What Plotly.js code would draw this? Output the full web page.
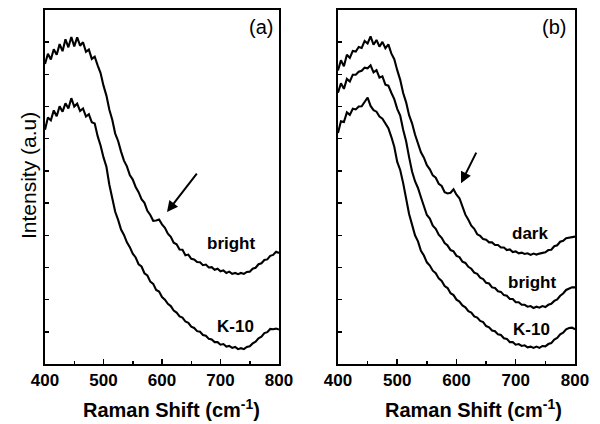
<!DOCTYPE html>
<html>
<head>
<meta charset="utf-8">
<script src="https://cdn.plot.ly/plotly-3.0.1.min.js"></script>
<style>
  html, body { margin: 0; padding: 0; background: #ffffff; }
  #chart { width: 600px; height: 424px; }
</style>
</head>
<body>
<div id="chart"></div>
<script>
// Raman shift (cm^-1)
const shift = [400,405,410,415,420,425,430,435,440,445,450,455,460,465,470,475,480,485,490,495,
  500,505,510,515,520,525,530,535,540,545,550,555,560,565,570,575,580,585,590,595,
  600,605,610,615,620,625,630,635,640,645,650,655,660,665,670,675,680,685,690,695,
  700,705,710,715,720,725,730,735,740,745,750,755,760,765,770,775,780,785,790,795,800];

// Panel (a)
const aBright = [93.2,96.4,94.6,97.8,96.1,99.4,97.2,100.9,98.4,101.6,98.7,101.5,98.9,100.0,97.0,97.7,94.8,95.5,92.8,90.4,
  86.5,83.4,79.0,75.9,71.6,69.3,66.0,63.2,61.4,58.7,57.3,55.0,53.4,51.2,50.1,47.6,46.3,44.5,44.6,44.9,
  43.4,42.3,40.5,39.5,37.7,37.2,35.6,35.5,33.8,34.0,32.7,32.5,31.7,31.6,30.7,30.9,30.0,30.1,29.3,29.6,
  28.8,29.1,28.3,28.7,28.0,28.3,27.9,28.3,28.0,28.6,28.7,29.6,29.9,31.0,31.3,32.3,32.5,33.6,33.9,34.9,34.5];
const aK10 = [72.8,76.6,75.7,78.8,77.0,80.1,78.4,81.0,79.4,82.6,80.0,80.9,78.6,79.4,76.9,77.6,75.1,74.7,70.8,67.9,
  64.2,61.3,55.7,51.8,47.3,44.8,41.8,40.1,37.8,36.3,34.3,33.1,31.0,30.3,28.2,27.5,25.6,24.9,23.0,22.5,
  20.8,20.0,18.7,18.0,16.6,16.0,14.8,14.4,13.2,12.8,11.6,11.2,10.2,10.0,9.0,8.8,7.8,7.6,6.8,6.8,
  6.0,6.2,5.4,5.6,5.0,5.3,4.6,4.9,4.6,5.3,5.5,6.4,6.9,8.0,8.5,9.6,9.9,10.9,10.8,11.0,10.7];

// Panel (b)
const bDark = [91.2,94.4,92.5,96.1,95.1,97.3,97.1,98.5,98.2,100.4,99.6,101.8,99.2,100.7,98.6,100.1,98.1,99.3,96.5,94.7,
  91.3,88.3,84.2,81.3,77.3,74.8,71.3,68.8,65.8,64.1,61.8,60.5,58.6,57.9,56.0,55.3,53.4,53.0,53.2,54.3,
  52.6,51.5,49.0,46.4,44.8,43.0,42.0,40.3,39.8,38.8,38.6,37.8,37.8,37.0,37.0,36.2,36.2,35.4,35.6,34.8,
  35.0,34.4,34.6,34.2,34.4,33.9,34.3,34.0,34.3,34.5,34.7,35.4,35.5,36.6,36.9,38.0,38.3,39.1,39.2,39.5,39.6];
const bBright = [84.3,87.2,85.5,88.6,87.8,89.9,89.9,90.8,91.1,92.1,91.9,92.8,90.6,91.3,89.0,89.4,86.8,86.5,84.3,82.3,
  79.3,77.2,72.8,69.2,64.3,59.8,56.8,54.7,51.8,48.7,46.3,45.2,43.0,42.0,40.2,39.2,37.6,36.8,35.4,35.0,
  33.6,33.2,31.8,31.4,30.2,29.6,28.4,28.0,26.8,26.4,25.2,25.0,23.8,23.6,22.6,22.4,21.4,21.2,20.2,20.2,
  19.2,19.2,18.4,18.4,17.8,18.0,17.4,17.8,17.5,18.0,17.7,18.4,18.7,19.6,20.1,21.2,21.9,23.0,23.3,23.8,23.8];
const bK10 = [71.8,75.4,75.2,78.2,77.4,79.3,79.1,80.0,80.1,81.6,82.8,80.2,78.9,78.4,76.9,76.2,74.7,73.3,70.6,67.5,
  62.8,60.3,56.2,51.3,46.6,43.3,40.0,38.1,35.2,33.7,31.6,30.6,29.0,28.2,26.6,25.8,24.2,23.6,22.0,21.4,
  20.0,19.4,18.2,17.6,16.4,16.0,14.8,14.4,13.4,13.0,11.8,11.4,10.4,10.2,9.2,9.0,8.0,7.8,6.8,6.8,
  6.0,6.2,5.6,5.8,5.2,5.4,5.0,5.4,5.0,5.6,5.5,6.2,6.5,7.6,8.1,9.2,9.7,10.8,11.2,11.3,10.8];

const lineStyle = { color: '#000000', width: 2.1 };
const mk = (y, xa, ya, name) => ({
  x: shift, y: y, xaxis: xa, yaxis: ya, name: name,
  type: 'scatter', mode: 'lines', line: lineStyle, showlegend: false, hoverinfo: 'skip'
});

const traces = [
  mk(aBright, 'x', 'y', 'bright'),
  mk(aK10, 'x', 'y', 'K-10'),
  mk(bDark, 'x2', 'y2', 'dark'),
  mk(bBright, 'x2', 'y2', 'bright'),
  mk(bK10, 'x2', 'y2', 'K-10')
];

const FONT = 'Arial, "Liberation Sans", Helvetica, sans-serif';

const xCommon = {
  range: [400, 800], dtick: 100, tick0: 400,
  ticks: 'inside', ticklen: 5, tickwidth: 1.5, tickcolor: '#000',
  minor: { dtick: 50, ticks: 'inside', ticklen: 3, tickwidth: 1.5, tickcolor: '#000' },
  showline: true, mirror: true, linewidth: 2, linecolor: '#000',
  showgrid: false, zeroline: false,
  tickfont: { family: FONT, size: 17, color: '#000', weight: 'bold' }
};
const yCommon = {
  range: [0, 110], dtick: 10, tick0: 0,
  ticks: 'inside', ticklen: 4, tickwidth: 1.5, tickcolor: '#000',
  showticklabels: false,
  showline: true, mirror: true, linewidth: 2, linecolor: '#000',
  showgrid: false, zeroline: false
};

const txt = (x, y, xref, yref, text, size, bold) => ({
  x: x, y: y, xref: xref, yref: yref, text: text, showarrow: false,
  xanchor: 'center', yanchor: 'middle',
  font: { family: FONT, size: size, color: '#000', weight: bold ? 'bold' : 'normal' }
});
const arrow = (x, y, xref, yref, ax, ay) => ({
  x: x, y: y, xref: xref, yref: yref, text: '', showarrow: true,
  ax: ax, ay: ay, arrowhead: 2, arrowsize: 1.1, arrowwidth: 2, arrowcolor: '#000', standoff: 0
});

const xTitle = 'Raman Shift (cm<sup>-1</sup>)';

const layout = {
  width: 600, height: 424,
  margin: { l: 45, r: 25, t: 10, b: 60 },
  paper_bgcolor: '#ffffff', plot_bgcolor: '#ffffff',
  showlegend: false,
  xaxis: Object.assign({}, xCommon, { domain: [0, 0.4415], anchor: 'y' }),
  yaxis: Object.assign({}, yCommon, { domain: [0, 1], anchor: 'x' }),
  xaxis2: Object.assign({}, xCommon, { domain: [0.5528, 1], anchor: 'y2' }),
  yaxis2: Object.assign({}, yCommon, { domain: [0, 1], anchor: 'x2' }),
  annotations: [
    Object.assign(txt(-0.032, 0.531, 'paper', 'paper', 'Intensity (a.u)', 21, false), { textangle: -90 }),
    txt(0.2396, -0.127, 'paper', 'paper', xTitle, 20, true),
    txt(0.8094, -0.127, 'paper', 'paper', xTitle, 20, true),
    txt(770, 104.7, 'x', 'y', '(a)', 20, false),
    txt(765, 104.7, 'x2', 'y2', '(b)', 20, false),
    txt(718, 37.3, 'x', 'y', 'bright', 17, true),
    txt(725, 11.5, 'x', 'y', 'K-10', 17, true),
    txt(724, 40.7, 'x2', 'y2', 'dark', 17, true),
    txt(727, 25.2, 'x2', 'y2', 'bright', 17, true),
    txt(726, 10.6, 'x2', 'y2', 'K-10', 17, true),
    arrow(608.5, 47.2, 'x', 'y', 31, -40),
    arrow(607.6, 56.2, 'x2', 'y2', 16, -32)
  ]
};

Plotly.newPlot('chart', traces, layout, { staticPlot: true, displayModeBar: false });
</script>
</body>
</html>
